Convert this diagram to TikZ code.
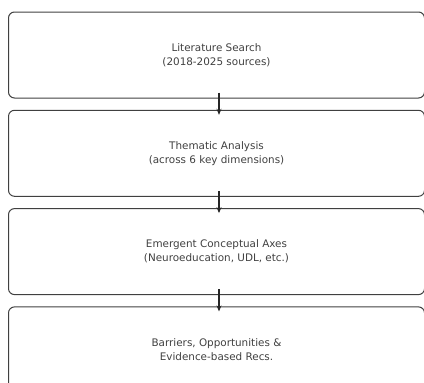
\documentclass[tikz,border=0pt]{standalone}
\usepackage{fontspec}
\setmainfont{DejaVu Sans}
\usetikzlibrary{positioning, arrows.meta}

\tikzset{
	stage/.style={draw=black!75, line width=1pt, rounded corners=6pt,
		minimum width=416pt, minimum height=86pt, align=center,
		text=black!75, font=\fontsize{10.4}{14}\selectfont},
	flow/.style={-{Stealth[length=6pt,width=5pt]}, line width=1.1pt, black!85}
}

\begin{document}
\begin{tikzpicture}[x=1pt,y=1pt]
		\useasboundingbox (0,0) rectangle (424,-383);
		\clip (0,0) rectangle (424,-383);
		\node[stage] (search) at (216.5,-55) {Literature Search\\(2018-2025 sources)};
		\node[stage, below=11.3pt of search] (thematic) {Thematic Analysis\\(across 6 key dimensions)};
		\node[stage, below=11.3pt of thematic] (axes) {Emergent Conceptual Axes\\(Neuroeducation, UDL, etc.)};
		\node[stage, below=11.3pt of axes] (recs) {Barriers, Opportunities \&\\Evidence-based Recs.};
		% arrows between stages
		\draw[flow] ([xshift=2.5pt,yshift=6pt]search.south) -- ([xshift=2.5pt,yshift=-5pt]thematic.north);
		\draw[flow] ([xshift=2.5pt,yshift=6pt]thematic.south) -- ([xshift=2.5pt,yshift=-5pt]axes.north);
		\draw[flow] ([xshift=2.5pt,yshift=6pt]axes.south) -- ([xshift=2.5pt,yshift=-5pt]recs.north);
	\end{tikzpicture}
\end{document}
